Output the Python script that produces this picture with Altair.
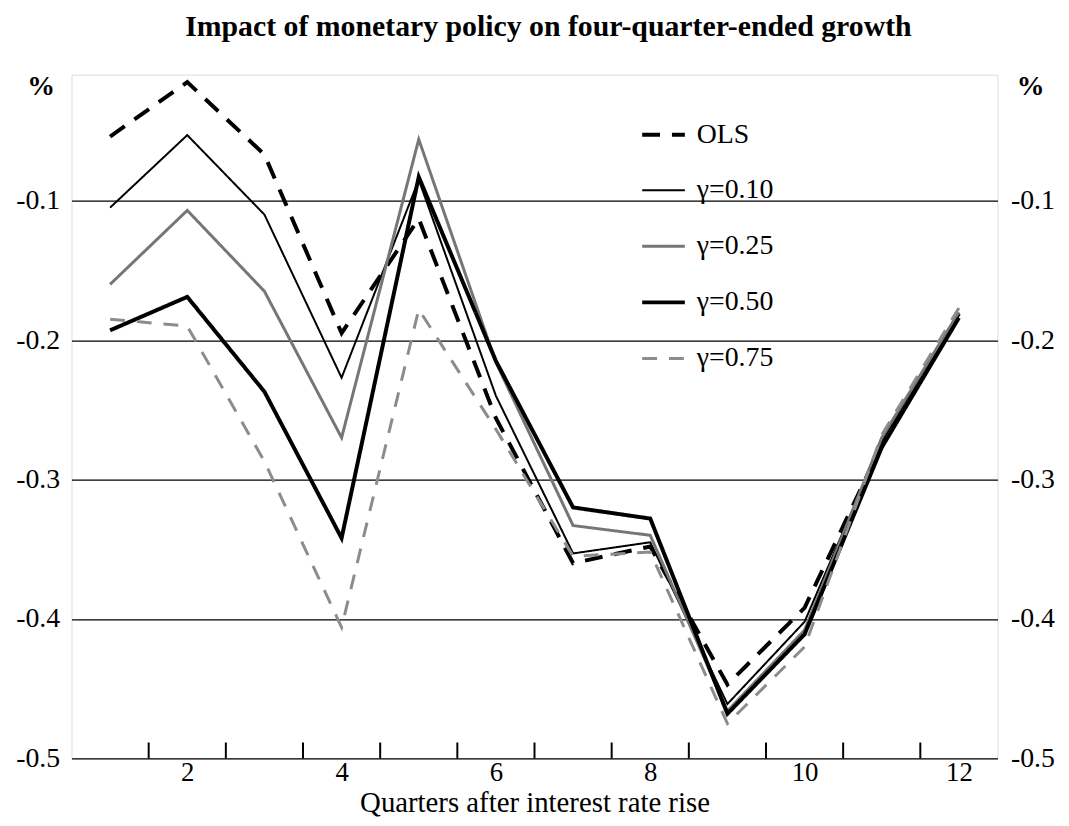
import altair as alt
import pandas as pd

quarters = [1, 2, 3, 4, 5, 6, 7, 8, 9, 10, 11, 12]
ols  = [-0.054, -0.015, -0.067, -0.195, -0.113, -0.256, -0.360, -0.348, -0.447, -0.392, -0.275, -0.181]
g010 = [-0.105, -0.053, -0.110, -0.227, -0.085, -0.240, -0.353, -0.345, -0.461, -0.402, -0.273, -0.181]
g025 = [-0.160, -0.107, -0.165, -0.270, -0.056, -0.216, -0.333, -0.340, -0.466, -0.408, -0.270, -0.180]
g050 = [-0.193, -0.169, -0.237, -0.342, -0.083, -0.215, -0.320, -0.328, -0.468, -0.411, -0.277, -0.184]
g075 = [-0.185, -0.190, -0.287, -0.406, -0.178, -0.264, -0.355, -0.352, -0.475, -0.420, -0.268, -0.177]

series_names = ["OLS", "γ=0.10", "γ=0.25", "γ=0.50", "γ=0.75"]
series_values = [ols, g010, g025, g050, g075]

x_label_values = [2, 4, 6, 8, 10, 12]
x_tick_positions = [1.5, 2.5, 3.5, 4.5, 5.5, 6.5, 7.5, 8.5, 9.5, 10.5, 11.5]
y_label_values = [-0.5, -0.4, -0.3, -0.2, -0.1]

rows = []
for name, vals in zip(series_names, series_values):
    for q, v in zip(quarters, vals):
        rows.append({"quarter": q, "value": v, "series": name})
df = pd.DataFrame(rows)
ticks_df = pd.DataFrame({"quarter": x_tick_positions})

FONT = "Liberation Serif"
W, H = 933, 689
xscale = alt.Scale(domain=[0.5, 12.5], nice=False, zero=False)
yscale = alt.Scale(domain=[-0.5, -0.0096], nice=False, zero=False)
HYPHEN = "replace(format(datum.value, '.1f'), '\u2212', '-')"

leg = dict(title=None, orient="none", legendX=573, legendY=37,
           symbolType="stroke", symbolSize=1849,
           labelFontSize=28, labelFont=FONT, labelColor="black",
           labelOffset=10, rowPadding=19, padding=0)

xaxis = alt.Axis(values=x_label_values, title="Quarters after interest rate rise",
                 format="d", ticks=False, tickSize=0, domain=False, grid=False,
                 labelFontSize=27, labelFont=FONT, labelColor="black", labelPadding=1,
                 titleFontSize=29, titleFont=FONT, titleFontWeight="normal",
                 titleColor="black", titlePadding=4)

lines = alt.Chart(df).mark_line(strokeCap="butt", strokeJoin="miter").encode(
    x=alt.X("quarter:Q", scale=xscale, axis=xaxis),
    y=alt.Y("value:Q", scale=yscale,
            axis=alt.Axis(values=y_label_values, title="%", orient="left",
                          ticks=False, tickSize=0, domain=False, grid=True,
                          gridColor="black", gridWidth=1.3, gridOpacity=1,
                          labelFontSize=28, labelFont=FONT, labelColor="black", labelPadding=12,
                          labelExpr=HYPHEN,
                          titleAngle=0, titleX=-31, titleY=12, titleAlign="center",
                          titleBaseline="middle", titleFontSize=28, titleFont=FONT,
                          titleFontWeight="bold", titleColor="black")),
    color=alt.Color("series:N",
                    scale=alt.Scale(type="ordinal", domain=series_names,
                                    range=["black", "black", "#767676", "black", "#8c8c8c"]),
                    legend=alt.Legend(**leg)),
    strokeDash=alt.StrokeDash("series:N",
                              scale=alt.Scale(type="ordinal", domain=series_names,
                                              range=[[18, 12], [1, 0], [1, 0], [1, 0], [15, 12]]),
                              legend=alt.Legend(**leg)),
    strokeWidth=alt.StrokeWidth("series:N",
                                scale=alt.Scale(type="ordinal", domain=series_names,
                                                range=[4, 2, 3, 4, 3]),
                                legend=alt.Legend(**leg)),
    order=alt.Order("quarter:Q"),
)

right_axis = alt.Chart(df).mark_line(opacity=0).encode(
    x=alt.X("quarter:Q", scale=xscale),
    y=alt.Y("value:Q", scale=yscale,
            axis=alt.Axis(values=y_label_values, title="%", orient="right",
                          ticks=False, tickSize=0, domain=False, grid=False,
                          labelFontSize=28, labelFont=FONT, labelColor="black", labelPadding=13,
                          labelExpr=HYPHEN,
                          titleAngle=0, titleX=33, titleY=12, titleAlign="center",
                          titleBaseline="middle", titleFontSize=28, titleFont=FONT,
                          titleFontWeight="bold", titleColor="black")),
    detail="series:N",
)

tick_marks = alt.Chart(ticks_df).mark_rule(color="black", strokeWidth=2).encode(
    x=alt.X("quarter:Q", scale=xscale),
    y=alt.value(H),
    y2=alt.value(H - 16),
)

chart = alt.layer(lines, right_axis, tick_marks).resolve_scale(
    y="independent"
).properties(
    width=W, height=H,
    padding={"left": 64, "top": 64, "right": 64, "bottom": 65},
    autosize=alt.AutoSizeParams(type="none"),
    title=alt.TitleParams("Impact of monetary policy on four-quarter-ended growth",
                          font=FONT, fontSize=30, fontWeight="bold", color="black",
                          anchor="middle", baseline="alphabetic", offset=7, frame="group",
                          dx=14),
).configure_view(
    stroke="black", strokeWidth=2.5
).configure(background="white")

chart.save("out.html", embed_options={"renderer": "svg", "actions": False})
